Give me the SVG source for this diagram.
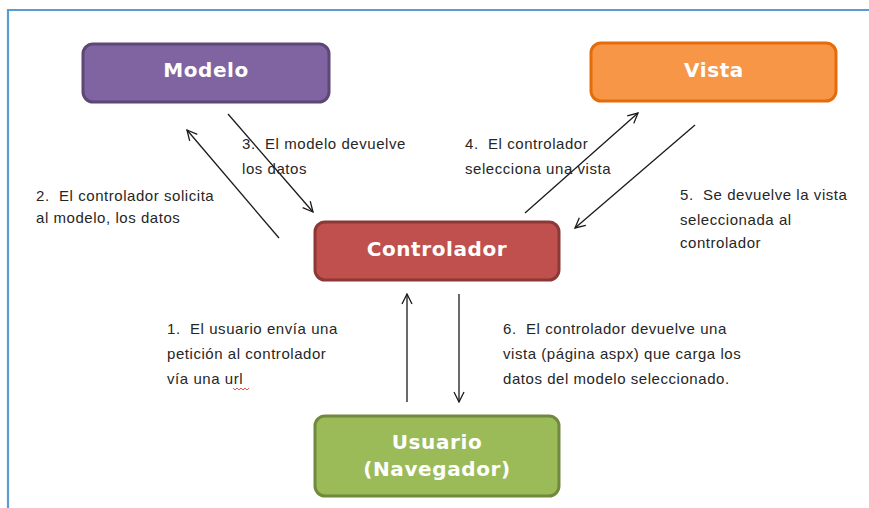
<svg xmlns="http://www.w3.org/2000/svg" width="869" height="508" viewBox="0 0 869 508">
<style>
.node-title{font-family:"DejaVu Sans",Verdana,sans-serif;font-weight:bold;font-size:20px;fill:#ffffff;text-anchor:middle;letter-spacing:0.6px}
.lbl{font-family:"Liberation Sans",Arial,sans-serif;font-size:15px;fill:#262626;letter-spacing:0.55px;white-space:pre}
.conn{stroke:#1a1a1a;stroke-width:1.3;fill:none;marker-end:url(#arr)}
</style>
<defs>
<marker id="arr" viewBox="0 0 12 12" refX="11" refY="6" markerWidth="12" markerHeight="12" markerUnits="userSpaceOnUse" orient="auto">
<path d="M1,1 L11,6 L1,11" fill="none" stroke="#1a1a1a" stroke-width="1.3"/>
</marker>
</defs>
<rect width="869" height="508" fill="#ffffff"/>
<path d="M8,508 L8,10 L869,10" fill="none" stroke="#5B9BD5" stroke-width="2.2"/>

<g id="modelo">
<rect x="83" y="44" width="246" height="58" rx="10" fill="#8064A2" stroke="#5C4776" stroke-width="3"/>
<text class="node-title" x="206" y="77">Modelo</text>
</g>
<g id="vista">
<rect x="591" y="43" width="245" height="58" rx="10" fill="#F79646" stroke="#E46C0A" stroke-width="3"/>
<text class="node-title" x="714" y="77">Vista</text>
</g>
<g id="controlador">
<rect x="315" y="222" width="244" height="58" rx="10" fill="#C0504D" stroke="#8C3836" stroke-width="3"/>
<text class="node-title" x="437" y="256">Controlador</text>
</g>
<g id="usuario">
<rect x="315" y="416" width="244" height="80" rx="10" fill="#9BBB59" stroke="#71893F" stroke-width="3"/>
<text class="node-title" x="437" y="449">Usuario</text>
<text class="node-title" x="437" y="476">(Navegador)</text>
</g>

<g id="connectors">
<line class="conn" x1="279" y1="238" x2="187" y2="130"/>
<line class="conn" x1="228" y1="114" x2="313" y2="212"/>
<line class="conn" x1="525" y1="213" x2="638" y2="113"/>
<line class="conn" x1="695" y1="125" x2="575" y2="228"/>
<line class="conn" x1="407" y1="402" x2="407" y2="294"/>
<line class="conn" x1="459" y1="294" x2="459" y2="402"/>
</g>

<g id="labels">
<text class="lbl" x="242" y="149">3.  El modelo devuelve</text>
<text class="lbl" x="242" y="174">los datos</text>
<text class="lbl" x="36" y="201">2.  El controlador solicita</text>
<text class="lbl" x="36" y="223">al modelo, los datos</text>
<text class="lbl" x="465" y="149">4.  El controlador</text>
<text class="lbl" x="465" y="174">selecciona una vista</text>
<text class="lbl" x="680" y="200">5.  Se devuelve la vista</text>
<text class="lbl" x="680" y="225">seleccionada al</text>
<text class="lbl" x="680" y="248">controlador</text>
<text class="lbl" x="167" y="334">1.  El usuario envía una</text>
<text class="lbl" x="167" y="359">petición al controlador</text>
<text class="lbl" x="167" y="384">vía una url</text>
<text class="lbl" x="503" y="334">6.  El controlador devuelve una</text>
<text class="lbl" x="503" y="359">vista (página aspx) que carga los</text>
<text class="lbl" x="503" y="384">datos del modelo seleccionado.</text>
</g>
<path d="M233,388 l2,2 l2,-2 l2,2 l2,-2 l2,2 l2,-2 l2,2 l2,-2" fill="none" stroke="#e03030" stroke-width="0.8"/>
</svg>
